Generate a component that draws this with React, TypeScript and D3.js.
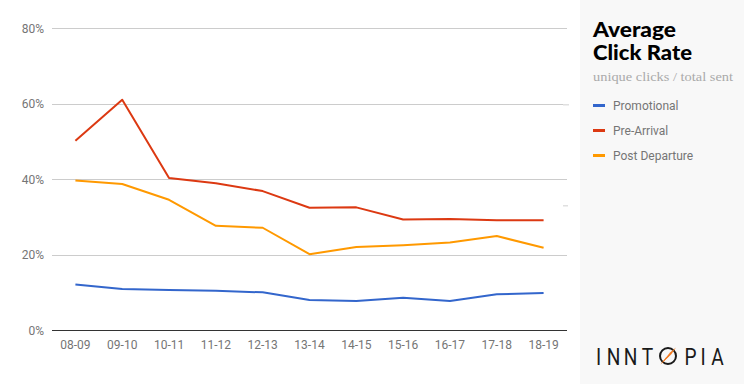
import React from "react";
import * as d3 from "d3";

const categories = ["08-09", "09-10", "10-11", "11-12", "12-13", "13-14", "14-15", "15-16", "16-17", "17-18", "18-19"];
const promotional = [12.2, 11.0, 10.7, 10.5, 10.1, 8.1, 7.8, 8.7, 7.8, 9.6, 9.9];
const preArrival = [50.2, 61.1, 40.4, 39.0, 36.9, 32.5, 32.6, 29.4, 29.5, 29.2, 29.2];
const postDeparture = [39.7, 38.8, 34.6, 27.7, 27.2, 20.2, 22.1, 22.6, 23.3, 25.0, 21.9];
const yTicks = [0, 20, 40, 60, 80];
const seriesNames = ["Promotional", "Pre-Arrival", "Post Departure"];
const seriesColors = ["#3366cc", "#dc3912", "#ff9900"];
const seriesData = [promotional, preArrival, postDeparture];
const logoLetters = ["I", "N", "N", "T", "", "P", "I", "A"];
const logoCenters = [598.5, 613.5, 630.5, 647.5, 668, 690.5, 703, 717.5];

export default function App() {
  const W = 744, H = 384;
  const x = d3.scaleBand<string>().domain(categories).range([52, 567]);
  const y = d3.scaleLinear().domain([0, 80]).range([330.5, 28.3]);
  const cx = (c: string) => (x(c) as number) + x.bandwidth() / 2;
  const line = d3.line<number>().x((_, i) => cx(categories[i])).y((d) => y(d));

  return (
    <div style={{ position: "fixed", left: 0, top: 0 }}>
      <svg width={W} height={H} style={{ display: "block" }}>
        <rect x={0} y={0} width={W} height={H} fill="#ffffff" />
        <rect x={580} y={0} width={164} height={H} fill="#f8f8f8" />
        {yTicks.map((t) => (
          <g key={t}>
            {t !== 0 && (
              <line x1={52} x2={567} y1={Math.round(y(t)) + 0.5} y2={Math.round(y(t)) + 0.5} stroke="#cccccc" strokeWidth={1} />
            )}
            <text x={44} y={y(t) + 4.5} textAnchor="end" fontFamily="Roboto" fontSize={12} fill="#757575">
              {t}%
            </text>
          </g>
        ))}
        <rect x={563} y={104} width={6} height={1.5} fill="#e0e0e0" />
        <rect x={563} y={205} width={5} height={1.5} fill="#e0e0e0" />
        {categories.map((c) => (
          <text key={c} x={cx(c)} y={349} textAnchor="middle" fontFamily="Roboto" fontSize={12} fill="#757575">
            {c}
          </text>
        ))}
        {seriesData.map((d, i) => (
          <path key={i} d={line(d) || ""} fill="none" stroke={seriesColors[i]} strokeWidth={2} strokeLinejoin="round" />
        ))}
        <line x1={52} x2={567} y1={330.5} y2={330.5} stroke="#333333" strokeWidth={1} />

        <text x={593} y={36.5} fontFamily="Lato" fontWeight={900} fontSize={20.5} fill="#000" textLength={83} lengthAdjust="spacingAndGlyphs">
          Average
        </text>
        <text x={593} y={59.5} fontFamily="Lato" fontWeight={900} fontSize={20.5} fill="#000" textLength={99} lengthAdjust="spacingAndGlyphs">
          Click Rate
        </text>
        <text x={593} y={81} fontFamily="Liberation Serif" fontSize={13.5} fill="#aaaaaa" textLength={140} lengthAdjust="spacingAndGlyphs">
          unique clicks / total sent
        </text>
        {seriesNames.map((n, i) => (
          <g key={n}>
            <rect x={593} y={104 + i * 25} width={12} height={3} fill={seriesColors[i]} />
            <text x={613} y={109.5 + i * 25} fontFamily="Roboto" fontSize={12} fill="#757575">
              {n}
            </text>
          </g>
        ))}

        {logoLetters.map((l, i) =>
          l ? (
            <text key={i} transform={`translate(${logoCenters[i]},365) scale(0.78,1)`} textAnchor="middle" fontFamily="Roboto" fontWeight={400} fontSize={24.5} fill="#1a1a1a">
              {l}
            </text>
          ) : null
        )}
        <circle cx={668} cy={356} r={8} fill="none" stroke="#1a1a1a" strokeWidth={2} />
        <path d="M660.5,364.5 L670,352.5 L676,347.5 L671.5,354 Z" fill="#f47a20" />
        <path d="M660.5,364.5 L665.5,358 L671.5,354 Z" fill="#f47a20" />
      </svg>
    </div>
  );
}
